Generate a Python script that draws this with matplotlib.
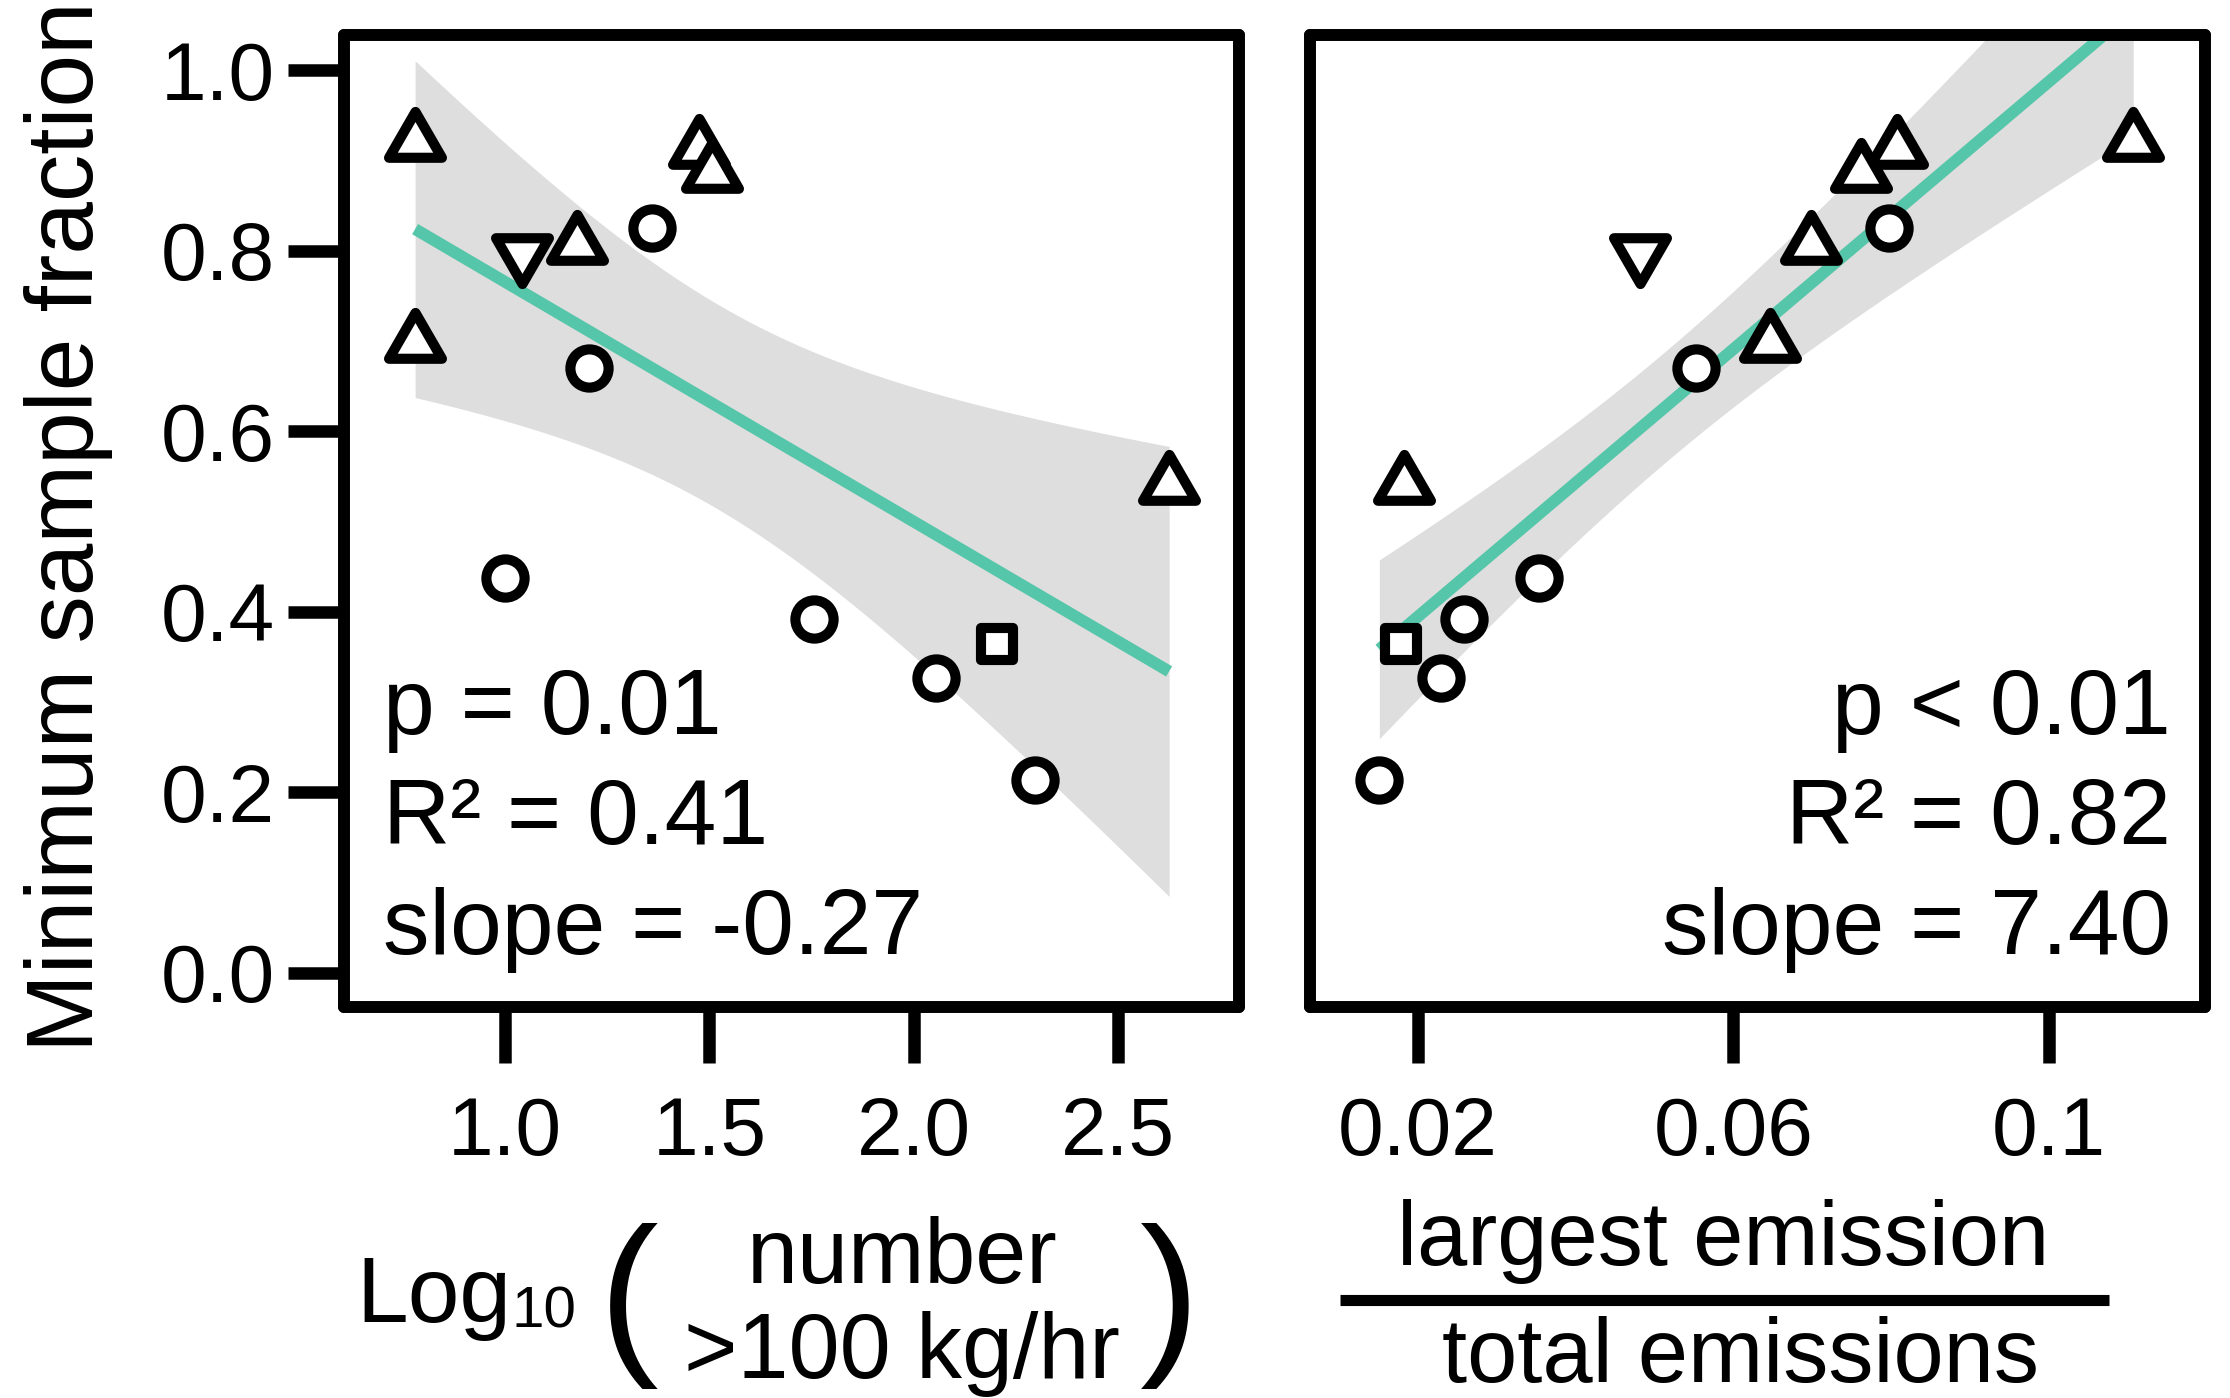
import numpy as np
import matplotlib.pyplot as plt
from matplotlib.markers import MarkerStyle
from matplotlib.lines import Line2D
from matplotlib.path import Path

plt.rcParams['font.family'] = ['Liberation Sans', 'DejaVu Sans']

# one entry per site, same order in both panels
min_frac = [0.920, 0.913, 0.886, 0.825, 0.806, 0.797, 0.698,
            0.670, 0.540, 0.437, 0.392, 0.364, 0.326, 0.214]
log_n100 = [0.780, 1.475, 1.506, 1.360, 1.177, 1.041, 0.780,
            1.206, 2.625, 1.000, 1.755, 2.204, 2.054, 2.298]
largest_share = [0.1107, 0.0808, 0.0762, 0.0797, 0.0698, 0.0481, 0.0647,
                 0.0553, 0.0182, 0.0353, 0.0259, 0.0178, 0.0229, 0.0151]
site_shape = ['up', 'up', 'up', 'circle', 'up', 'down', 'up',
              'circle', 'up', 'circle', 'circle', 'square', 'circle', 'circle']

left_stats = ['p = 0.01', 'R\u00b2 = 0.41', 'slope = -0.27']
right_stats = ['p < 0.01', 'R\u00b2 = 0.82', 'slope = 7.40']

left_ticks = [1.0, 1.5, 2.0, 2.5]
left_ticklabels = ['1.0', '1.5', '2.0', '2.5']
right_ticks = [0.02, 0.06, 0.1]
right_ticklabels = ['0.02', '0.06', '0.1']
y_ticks = [0.0, 0.2, 0.4, 0.6, 0.8, 1.0]
y_ticklabels = ['0.0', '0.2', '0.4', '0.6', '0.8', '1.0']

TEAL = '#55c6a9'
BAND = '#dedede'
W, H = 2230, 1398


def fx(px):
    return px / W


def fy(py):
    return 1 - py / H


# equilateral triangles centred on the centroid (like R pch 2 / 6)
tri_up = Path([(0, 1), (-0.866, -0.5), (0.866, -0.5), (0, 1)], closed=True)
tri_down = Path([(0, -1), (-0.866, 0.5), (0.866, 0.5), (0, -1)], closed=True)
markers = {
    'up': (MarkerStyle(tri_up, joinstyle='round'), 44),
    'down': (MarkerStyle(tri_down, joinstyle='round'), 44),
    'circle': (MarkerStyle('o'), 27.5),
    'square': (MarkerStyle('s', joinstyle='round'), 23),
}


def lm_band(x, y, npts=200, tval=2.1788):
    # linear fit with 95% confidence band (df = n - 2 = 12)
    x = np.asarray(x)
    y = np.asarray(y)
    b1, b0 = np.polyfit(x, y, 1)
    xs = np.linspace(x.min(), x.max(), npts)
    fit = b0 + b1 * xs
    n = len(x)
    s = np.sqrt(np.sum((y - (b0 + b1 * x)) ** 2) / (n - 2))
    se = s * np.sqrt(1.0 / n + (xs - x.mean()) ** 2 / np.sum((x - x.mean()) ** 2))
    return xs, fit, fit - tval * se, fit + tval * se


def draw_panel(ax, x, stats, stats_x, stats_ha):
    xs, fit, lo, hi = lm_band(x, min_frac)
    ax.fill_between(xs, lo, hi, color=BAND, lw=0, zorder=1)
    ax.plot(xs, fit, color=TEAL, lw=8.5, solid_capstyle='butt', zorder=2)
    for shape, (mk, ms) in markers.items():
        idx = [i for i, s in enumerate(site_shape) if s == shape]
        ax.plot([x[i] for i in idx], [min_frac[i] for i in idx], ls='none',
                marker=mk, markersize=ms, markeredgewidth=7.3,
                markeredgecolor='black', markerfacecolor='white', zorder=3)
    for txt, yy in zip(stats, [0.2809, 0.1677, 0.0545]):
        ax.text(stats_x, yy, txt, transform=ax.transAxes, fontsize=67,
                ha=stats_ha, va='baseline', zorder=4)
    ax.set_ylim(-0.038, 1.039)
    for sp in ax.spines.values():
        sp.set_linewidth(8.6)
        sp.set_capstyle('round')
        sp.set_joinstyle('round')
        sp.set_zorder(5)
    ax.tick_params(direction='out', length=40, width=9, color='black',
                   labelsize=59)
    ax.tick_params(axis='x', pad=24)
    ax.tick_params(axis='y', pad=10)


fig = plt.figure(figsize=(W / 100, H / 100), dpi=100)
ax1 = fig.add_axes([fx(344), fy(1007), fx(1239) - fx(344), fy(35) - fy(1007)])
ax2 = fig.add_axes([fx(1310), fy(1007), fx(2205) - fx(1310), fy(35) - fy(1007)])

draw_panel(ax1, log_n100, left_stats, 0.0436, 'left')
ax1.set_xlim(0.606, 2.796)
ax1.set_xticks(left_ticks, left_ticklabels)
ax1.set_yticks(y_ticks, y_ticklabels)

draw_panel(ax2, largest_share, right_stats, 0.962, 'right')
ax2.set_xlim(0.00631, 0.1198)
ax2.set_xticks(right_ticks, right_ticklabels)
ax2.set_yticks(y_ticks)
ax2.tick_params(axis='y', left=False, labelleft=False)

# y label
fig.text(fx(93), fy(527), 'Minimum sample fraction', rotation=90,
         rotation_mode='anchor', ha='center', va='baseline', fontsize=68)

# left x label: Log10( number / >100 kg/hr )
fig.text(fx(356), fy(1322), 'Log', fontsize=67, ha='left', va='baseline')
fig.text(fx(511), fy(1327), '10', fontsize=42, ha='left', va='baseline')
fig.text(fx(629), fy(1306), '(', fontsize=129, ha='center', va='center')
fig.text(fx(1170), fy(1306), ')', fontsize=129, ha='center', va='center')
fig.text(fx(902), fy(1283), 'number', fontsize=66, ha='center', va='baseline')
fig.text(fx(902), fy(1378), '>100 kg/hr', fontsize=66, ha='center', va='baseline')

# right x label: largest emission / total emissions
fig.text(fx(1723), fy(1265), 'largest emission', fontsize=65, ha='center', va='baseline')
fig.add_artist(Line2D([fx(1340), fx(2109)], [fy(1300), fy(1300)],
                      transform=fig.transFigure, color='black', lw=8,
                      solid_capstyle='butt'))
fig.text(fx(1740), fy(1382), 'total emissions', fontsize=65, ha='center', va='baseline')

fig.savefig('out.png', dpi=100, facecolor='white')
